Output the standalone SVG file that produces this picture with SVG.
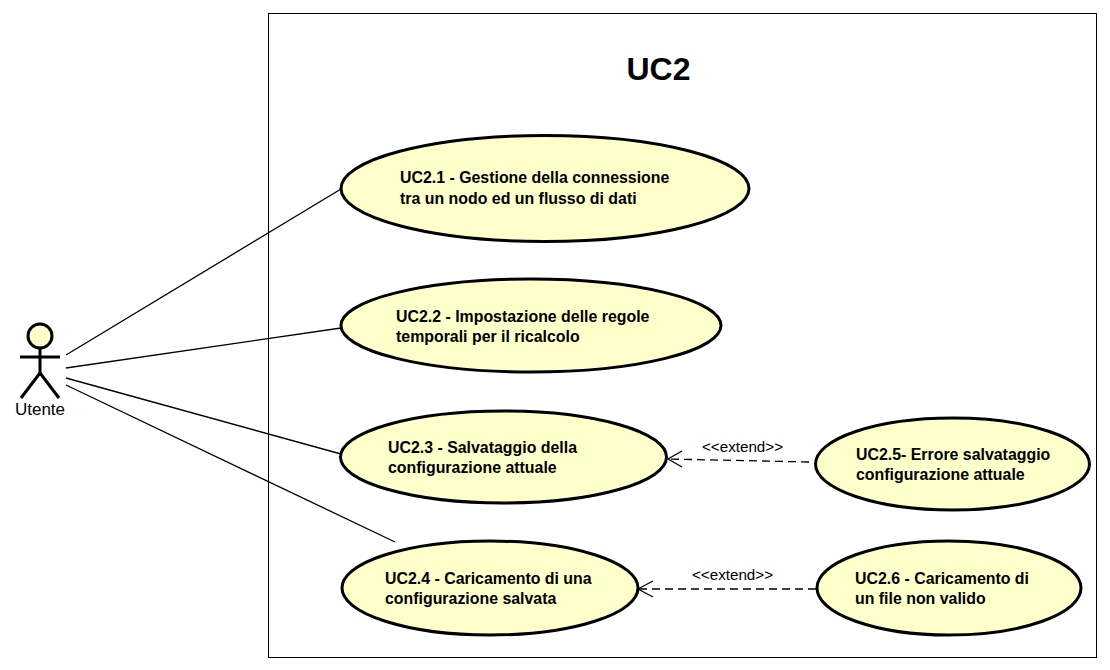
<svg xmlns="http://www.w3.org/2000/svg" width="1110" height="670" viewBox="0 0 1110 670">
<style>
text{font-family:"Liberation Sans",Arial,sans-serif;fill:#000}
.u{fill:#ffffcc;stroke:#000;stroke-width:3}
.l{font-size:15.9px;font-weight:bold}
.c{fill:none;stroke:#000;stroke-width:1.3}
.d{stroke-dasharray:8 5}
.e{font-size:15.2px}
</style>
<rect width="1110" height="670" fill="#fff"/>
<rect x="268.500" y="13.500" width="828" height="644" fill="#fff" stroke="#000" stroke-width="1"/>
<text x="658.500" y="80" font-size="32" font-weight="bold" text-anchor="middle">UC2</text>
<g id="connectors">
<path class="c" d="M66 355L341 189M66 368L341 328M66 378L341 454M66 385L395 542"/>
<path class="c d" d="M809 462L668 459M816 589L638 589"/>
<path class="c" d="M682 451L668 459L682 467M653 581L638 589L653 597"/>
<text class="e" x="742.500" y="452" text-anchor="middle">&lt;&lt;extend&gt;&gt;</text>
<text class="e" x="732.500" y="580" text-anchor="middle">&lt;&lt;extend&gt;&gt;</text>
</g>
<g id="actor">
<circle class="u" cx="40" cy="336" r="12"/>
<path d="M40 348V374M20 357H60M40 373L21 398M40 373L59 398" fill="none" stroke="#000" stroke-width="3"/>
<text x="40" y="415" font-size="17" text-anchor="middle">Utente</text>
</g>
<g id="uc21"><ellipse class="u" cx="545" cy="188.500" rx="204" ry="53"/><text class="l" x="400" y="183">UC2.1 - Gestione della connessione</text><text class="l" x="400" y="204">tra un nodo ed un flusso di dati</text></g>
<g id="uc22"><ellipse class="u" cx="531" cy="325.500" rx="190" ry="46.500"/><text class="l" x="396" y="322">UC2.2 - Impostazione delle regole</text><text class="l" x="396" y="342">temporali per il ricalcolo</text></g>
<g id="uc23"><ellipse class="u" cx="503.500" cy="457" rx="163" ry="46"/><text class="l" x="388" y="453">UC2.3 - Salvataggio della</text><text class="l" x="388" y="473">configurazione attuale</text></g>
<g id="uc24"><ellipse class="u" cx="490" cy="588" rx="148" ry="47"/><text class="l" x="385" y="584">UC2.4 - Caricamento di una</text><text class="l" x="385" y="604">configurazione salvata</text></g>
<g id="uc25"><ellipse class="u" cx="952.500" cy="464" rx="137" ry="46"/><text class="l" x="856" y="460">UC2.5- Errore salvataggio</text><text class="l" x="856" y="480">configurazione attuale</text></g>
<g id="uc26"><ellipse class="u" cx="949" cy="588" rx="132" ry="47"/><text class="l" x="855" y="584">UC2.6 - Caricamento di</text><text class="l" x="855" y="604">un file non valido</text></g>
</svg>
